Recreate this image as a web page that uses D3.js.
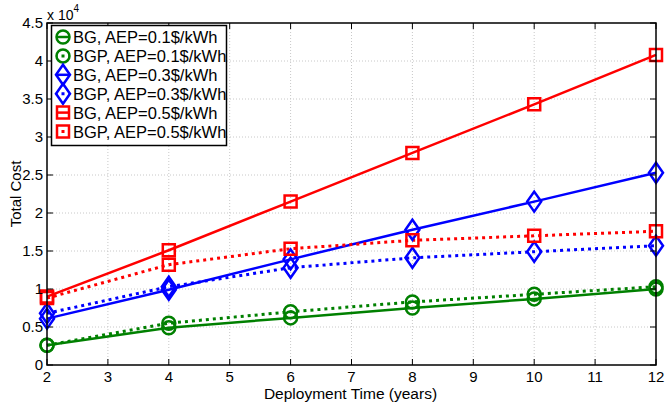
<!DOCTYPE html>
<meta charset="utf-8">
<style>
body { margin: 0; background: #fff; }
text { font-family: "Liberation Sans", Arial, Helvetica, sans-serif; }
.grid line { stroke: #c8c8c8; stroke-width: 1; stroke-dasharray: 1,2; }
</style>
<svg width="667" height="405"></svg>
<script src="https://cdn.jsdelivr.net/npm/d3@7"></script>
<script>

// deployment time (years)
var years = [2, 4, 6, 8, 10, 12];

// total cost per scheme
var bg01  = [2600, 4900, 6200, 7500, 8700, 10000];
var bgp01 = [2600, 5500, 7000, 8300, 9300, 10300];
var bg03  = [6100, 9900, 13900, 17800, 21500, 25300];
var bgp03 = [6800, 10300, 12800, 14100, 14900, 15700];
var bg05  = [9000, 15100, 21500, 27900, 34300, 40800];
var bgp05 = [8800, 13200, 15300, 16400, 17000, 17600];

var seriesNames = ["BG, AEP=0.1$/kWh", "BGP, AEP=0.1$/kWh",
                   "BG, AEP=0.3$/kWh", "BGP, AEP=0.3$/kWh",
                   "BG, AEP=0.5$/kWh", "BGP, AEP=0.5$/kWh"];

var xTicks = [2, 3, 4, 5, 6, 7, 8, 9, 10, 11, 12];
var yTicks = [0, 5000, 10000, 15000, 20000, 25000, 30000, 35000, 40000, 45000];
var yTickLabels = ["0", "0.5", "1", "1.5", "2", "2.5", "3", "3.5", "4", "4.5"];

var series = [
  {name: seriesNames[0], values: bg01,  color: "#008000", dotted: false, marker: "circle"},
  {name: seriesNames[1], values: bgp01, color: "#008000", dotted: true,  marker: "circle"},
  {name: seriesNames[2], values: bg03,  color: "#0000ff", dotted: false, marker: "diamond"},
  {name: seriesNames[3], values: bgp03, color: "#0000ff", dotted: true,  marker: "diamond"},
  {name: seriesNames[4], values: bg05,  color: "#ff0000", dotted: false, marker: "square"},
  {name: seriesNames[5], values: bgp05, color: "#ff0000", dotted: true,  marker: "square"}
];

var pl = 47, pr = 656, pt = 23, pb = 365;

var svg = d3.select("svg");

var x = d3.scaleLinear().domain([2, 12]).range([pl, pr]);
var y = d3.scaleLinear().domain([0, 45000]).range([pb, pt]);

// grid
var grid = svg.append("g").attr("class", "grid");
grid.selectAll("line.gx")
  .data(xTicks.slice(1, -1))
  .enter().append("line")
    .attr("class", "gx")
    .attr("x1", function(d) { return x(d); })
    .attr("x2", function(d) { return x(d); })
    .attr("y1", pt).attr("y2", pb);
grid.selectAll("line.gy")
  .data(yTicks.slice(1, -1))
  .enter().append("line")
    .attr("class", "gy")
    .attr("y1", function(d) { return y(d); })
    .attr("y2", function(d) { return y(d); })
    .attr("x1", pl).attr("x2", pr);

// lines
var line = d3.line()
  .x(function(d, i) { return x(years[i]); })
  .y(function(d) { return y(d); });

function markerPath(type) {
  if (type === "diamond") return "M0,-10L7,0L0,10L-7,0Z";
  if (type === "square") return "M-6,-6L6,-6L6,6L-6,6Z";
  return d3.symbol().type(d3.symbolCircle).size(Math.PI * 6.5 * 6.5)();
}

var plot = svg.append("g");
series.forEach(function(s) {
  plot.append("path")
    .datum(s.values)
    .attr("d", line)
    .attr("fill", "none")
    .attr("stroke", s.color)
    .attr("stroke-width", s.dotted ? 3 : 2.5)
    .attr("stroke-dasharray", s.dotted ? "3,4" : null);
});
series.forEach(function(s) {
  plot.selectAll(null)
    .data(s.values)
    .enter().append("path")
      .attr("transform", function(d, i) { return "translate(" + x(years[i]) + "," + y(d) + ")"; })
      .attr("d", markerPath(s.marker))
      .attr("fill", "none")
      .attr("stroke", s.color)
      .attr("stroke-width", 2.5);
});

// axes box with inward ticks
var axisG = svg.append("g");
axisG.append("rect")
  .attr("x", pl).attr("y", pt)
  .attr("width", pr - pl).attr("height", pb - pt)
  .attr("fill", "none").attr("stroke", "#000").attr("stroke-width", 1.5);

var tl = 6;
xTicks.forEach(function(t) {
  axisG.append("line").attr("x1", x(t)).attr("x2", x(t)).attr("y1", pb).attr("y2", pb - tl).attr("stroke", "#000");
  axisG.append("line").attr("x1", x(t)).attr("x2", x(t)).attr("y1", pt).attr("y2", pt + tl).attr("stroke", "#000");
  axisG.append("text")
    .attr("x", x(t)).attr("y", pb + 17)
    .attr("text-anchor", "middle")
    .attr("font-size", 15)
    .text(t);
});
yTicks.forEach(function(t, i) {
  axisG.append("line").attr("y1", y(t)).attr("y2", y(t)).attr("x1", pl).attr("x2", pl + tl).attr("stroke", "#000");
  axisG.append("line").attr("y1", y(t)).attr("y2", y(t)).attr("x1", pr).attr("x2", pr - tl).attr("stroke", "#000");
  axisG.append("text")
    .attr("x", pl - 4).attr("y", y(t) + 5)
    .attr("text-anchor", "end")
    .attr("font-size", 15)
    .text(yTickLabels[i]);
});

// exponent label
var expo = svg.append("text").attr("x", pl).attr("y", 20).attr("font-size", 14);
expo.append("tspan").text("x 10");
expo.append("tspan").attr("dy", -8).attr("font-size", 10).text("4");

// axis titles
svg.append("text")
  .attr("x", (pl + pr) / 2 - 1).attr("y", 399)
  .attr("text-anchor", "middle")
  .attr("font-size", 15.5)
  .text("Deployment Time (years)");
svg.append("text")
  .attr("transform", "translate(21," + ((pt + pb) / 2) + ") rotate(-90)")
  .attr("text-anchor", "middle")
  .attr("font-size", 15)
  .text("Total Cost");

// legend
var lg = svg.append("g");
lg.append("rect")
  .attr("x", 51.5).attr("y", 25.5).attr("width", 175).attr("height", 120)
  .attr("fill", "#fff").attr("stroke", "#000").attr("stroke-width", 1.5);

series.forEach(function(s, i) {
  var cy = 37 + i * 18.9;
  var mx = 63;
  lg.append("line")
    .attr("x1", mx - 7).attr("x2", mx + 7).attr("y1", cy).attr("y2", cy)
    .attr("stroke", s.color)
    .attr("stroke-width", s.dotted ? 3 : 2.5)
    .attr("stroke-dasharray", s.dotted ? "3,4" : null)
    .attr("stroke-dashoffset", s.dotted ? -5.5 : null);
  lg.append("path")
    .attr("transform", "translate(" + mx + "," + cy + ")")
    .attr("d", markerPath(s.marker))
    .attr("fill", "none")
    .attr("stroke", s.color)
    .attr("stroke-width", 2.5);
  lg.append("text")
    .attr("x", 73).attr("y", cy + 6)
    .attr("font-size", 16.5)
    .text(s.name);
});

</script>
